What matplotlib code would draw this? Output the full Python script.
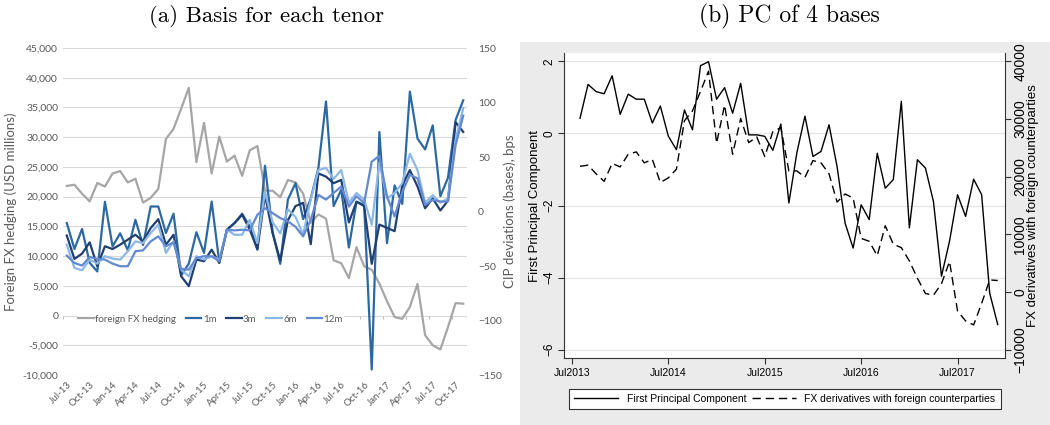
import matplotlib.pyplot as plt
import matplotlib.patches as patches
import pandas as pd
from matplotlib.ticker import FuncFormatter


# Monthly observations, Jul-13 .. Nov-17
months = pd.period_range('2013-07', periods=53, freq='M')
monthLabels = [m.strftime('%b-%y') for m in months]

# foreign FX hedging, USD millions (left axis of panel a, right axis of panel b)
fxHedging = [21800, 22000, 20500, 19200, 22300, 21700, 23900, 24300, 22400, 23000,
             19000, 19800, 21300, 29700, 31400, 34800, 38300, 25800, 32400, 23900,
             30100, 25900, 26900, 23500, 27800, 28500, 21000, 21000, 19900, 22800,
             22400, 20500, 15600, 17000, 16300, 9300, 8800, 6300, 11500, 8300,
             7700, 5400, 2400, -250, -550, 1450, 5300, -3300, -5000, -5700,
             -1950, 2100, 2000]

# CIP deviations by tenor, bps
basis1m = [-10.6, -34.4, -16, -47, -55, 9, -32, -20, -35.6, -7.6,
           -30.7, 4.6, 4.6, -19.7, -2, -58.7, -47.8, -19, -38, 9.2,
           -46.5, -16.7, -10.6, -2, -13.7, -35, 42, -19, -48, 11,
           26, -7, 12, 40, 101, 5, 20, -33, 9, 6,
           -145, 73, -29, 24, 7, 110, 67, 57, 79, 14,
           31, 84, 102]
basis3m = [-22, -43.5, -38.6, -28.3, -50.2, -31.9, -34.4, -30.4, -25.8, -21.3,
           -27.4, -15.2, -7, -30.4, -21.3, -59.4, -68.5, -44.1, -45.6, -35,
           -47.2, -16.7, -10.6, -3, -16.7, -34.4, 15, -20, -45, -8,
           5, 8, -30, 35, 32, 26, 29, -10, 9, 5,
           -48, -12, -15, -18, 24, 38, 23, 3, 12, 1,
           10, 82, 73]
basis6m = [-30.4, -51.7, -53.9, -44.1, -47.8, -41, -43.2, -44.1, -36.5, -27.4,
           -28.9, -19.7, -12.1, -38, -27.4, -53.3, -59.4, -41, -44.1, -41,
           -44.1, -16.7, -21.3, -21.3, -7.6, -28.9, 18, -10, -20, 2,
           -5, -21, 11, 38, 40, 30, 38, 8, 17, 11,
           -12, 45, 12, 17, 26, 53, 38, 8, 15, 8,
           12, 66, 95]
basis12m = [-40.5, -47.2, -49.6, -41.7, -43.5, -44.1, -47.8, -50.2, -50.2, -36.5,
            -35.6, -27.4, -22.8, -31.9, -28.3, -52.6, -53.3, -42.6, -41, -41,
            -45.6, -16.7, -17.3, -16.7, -17.3, -3, 3, -1.5, -6, -9,
            -14, -22.8, -7.6, 15.3, 11, 17, 23, 4.6, 14, 7.7,
            45.8, 51, 13.8, -4.5, 18, 33.6, 30.5, 6, 10.7, 9.2,
            9.2, 61, 88]

# first principal component of the 4 bases
pcFirst = [0.42, 1.36, 1.16, 1.10, 1.60, 0.53, 1.09, 0.95, 0.95, 0.29,
           0.76, -0.08, -0.45, 0.65, 0.10, 1.88, 1.99, 0.95, 1.27, 0.56,
           1.39, -0.04, -0.04, -0.08, -0.47, 0.26, -1.93, -0.53, 0.48, -0.64,
           -0.50, 0.24, -0.92, -2.49, -3.18, -1.98, -2.39, -0.55, -1.52, -1.28,
           0.89, -2.62, -0.73, -0.96, -1.89, -3.96, -2.99, -1.70, -2.30, -1.27,
           -1.70, -4.43, -5.30]

tenorNames = ['1m', '3m', '6m', '12m']
tenorColors = ['#2C69A3', '#203F72', '#8DB8E6', '#6389D2']
excelGray = '#595959'
excelFont = 'Lato'
stataFont = 'Liberation Sans'

fig = plt.figure(figsize=(10.5, 4.25), dpi=100)

# grey page behind panel (b), drawn first so everything else sits on top
fig.patches.append(patches.Rectangle((0.4952, 0), 0.5048, 0.9012, transform=fig.transFigure,
                                     facecolor='#EBEBEB', edgecolor='none', zorder=-10))

# ---------------- panel (a) ----------------
axA = fig.add_axes([0.06, 0.1176, 0.3848, 0.7694])
xs = list(range(len(months)))
axA.set_xlim(-0.5, len(months) - 0.5)
axA.set_ylim(-10000, 45000)
axA.set_yticks(range(-10000, 45001, 5000))
axA.yaxis.set_major_formatter(FuncFormatter(lambda v, p: f'{v:,.0f}'))
axA.grid(axis='y', color='#D9D9D9', lw=0.8)
axA.set_axisbelow(True)
for s in axA.spines.values():
    s.set_visible(False)
axA.tick_params(axis='both', length=0, labelsize=7.5, labelcolor=excelGray)
axA.set_xticks(xs[::3])
axA.set_xticklabels(monthLabels[::3], rotation=45, ha='right', rotation_mode='anchor',
                    fontsize=7, family=excelFont)
for lab in axA.get_yticklabels():
    lab.set_family(excelFont)
axA.set_ylabel('Foreign FX hedging (USD millions)', fontsize=9.5, color=excelGray,
               family=excelFont, labelpad=4)
# small category ticks on the zero line
axA.vlines([x - 0.5 for x in xs[::3]] + [len(months) - 0.5], -550, 0, color='#BFBFBF', lw=0.8)

hedgeLine, = axA.plot(xs, fxHedging, color='#A6A6A6', lw=1.6)

axB = axA.twinx()
axB.set_ylim(-150, 150)
axB.set_yticks(range(-150, 151, 50))
for s in axB.spines.values():
    s.set_visible(False)
axB.tick_params(axis='y', length=0, labelsize=7.5, labelcolor=excelGray, pad=8)
for lab in axB.get_yticklabels():
    lab.set_family(excelFont)
axB.set_ylabel('CIP deviations (bases), bps', fontsize=9.5, color=excelGray,
               family=excelFont, labelpad=1)
tenorLines = []
for name, vals, col in zip(tenorNames, [basis1m, basis3m, basis6m, basis12m], tenorColors):
    ln, = axB.plot(xs, vals, color=col, lw=1.6)
    tenorLines.append(ln)

leg = axB.legend([hedgeLine] + tenorLines, ['foreign FX hedging'] + tenorNames,
                 loc='center', bbox_to_anchor=(0.365, 0.171), ncol=5,
                 frameon=True, framealpha=1, facecolor='white', edgecolor='none',
                 handlelength=1.6, handletextpad=0.15, columnspacing=1.0,
                 borderpad=0.1, prop={'family': excelFont, 'size': 7})
for t in leg.get_texts():
    t.set_color(excelGray)

fig.text(0.254, 0.962, '(a) Basis for each tenor', ha='center', va='center',
         fontsize=16.5, family='cmr10')

# ---------------- panel (b) ----------------
axC = fig.add_axes([0.5371, 0.1576, 0.42, 0.7176])
axC.set_facecolor('white')
pcX = [i + 1 for i in xs]  # months since Jul2013
axC.set_xlim(-1, 53.9)
axC.set_ylim(-6.23, 2.23)
axC.set_yticks([-6, -4, -2, 0, 2])
axC.set_xticks([0, 12, 24, 36, 48])
axC.set_xticklabels(['Jul2013', 'Jul2014', 'Jul2015', 'Jul2016', 'Jul2017'],
                    fontsize=7.5, family=stataFont)
axC.grid(axis='y', color='#E6E6E6', lw=1.0)
axC.set_axisbelow(True)
axC.spines['top'].set_visible(False)
axC.spines['right'].set_visible(False)
for s in ['left', 'bottom']:
    axC.spines[s].set_color('#333333')
    axC.spines[s].set_linewidth(0.8)
axC.tick_params(axis='both', direction='out', length=4, width=0.8, color='#333333')
axC.tick_params(axis='y', labelsize=8.5, pad=2)
for lab in axC.get_yticklabels():
    lab.set_rotation(90)
    lab.set_va('center')
    lab.set_family(stataFont)
axC.set_ylabel('First Principal Component', fontsize=9.5, family=stataFont, labelpad=2)
pcLine, = axC.plot(pcX, pcFirst, color='black', lw=1.0)

axD = axC.twinx()
axD.set_ylim(40000 + (-6.23 - 2) * 6250, 40000 + (2.23 - 2) * 6250)
axD.set_yticks(range(-10000, 40001, 10000))
for s in ['top', 'left', 'bottom']:
    axD.spines[s].set_visible(False)
axD.spines['right'].set_color('#333333')
axD.spines['right'].set_linewidth(0.8)
axD.tick_params(axis='y', direction='out', length=4, width=0.8, color='#333333',
                labelsize=10, pad=2)
for lab in axD.get_yticklabels():
    lab.set_rotation(90)
    lab.set_va('center')
    lab.set_family(stataFont)
axD.set_ylabel('FX derivatives with foreign counterparties', fontsize=9.5,
               family=stataFont, labelpad=0)
fxLine, = axD.plot(pcX, fxHedging, color='black', lw=1.0, dashes=(6, 3.5))

legB = axC.legend([pcLine, fxLine], ['First Principal Component',
                                     'FX derivatives with foreign counterparties'],
                  loc='center', bbox_to_anchor=(0.7476, 0.0612), bbox_transform=fig.transFigure,
                  ncol=2, fancybox=False, edgecolor='#333333', framealpha=1,
                  handlelength=4.2, handletextpad=0.8, columnspacing=0.6,
                  borderpad=0.5, prop={'family': stataFont, 'size': 7.5})
legB.get_frame().set_linewidth(0.8)

fig.text(0.752, 0.962, '(b) PC of 4 bases', ha='center', va='center',
         fontsize=17, family='cmr10')

fig.savefig('out.png', dpi=100)
